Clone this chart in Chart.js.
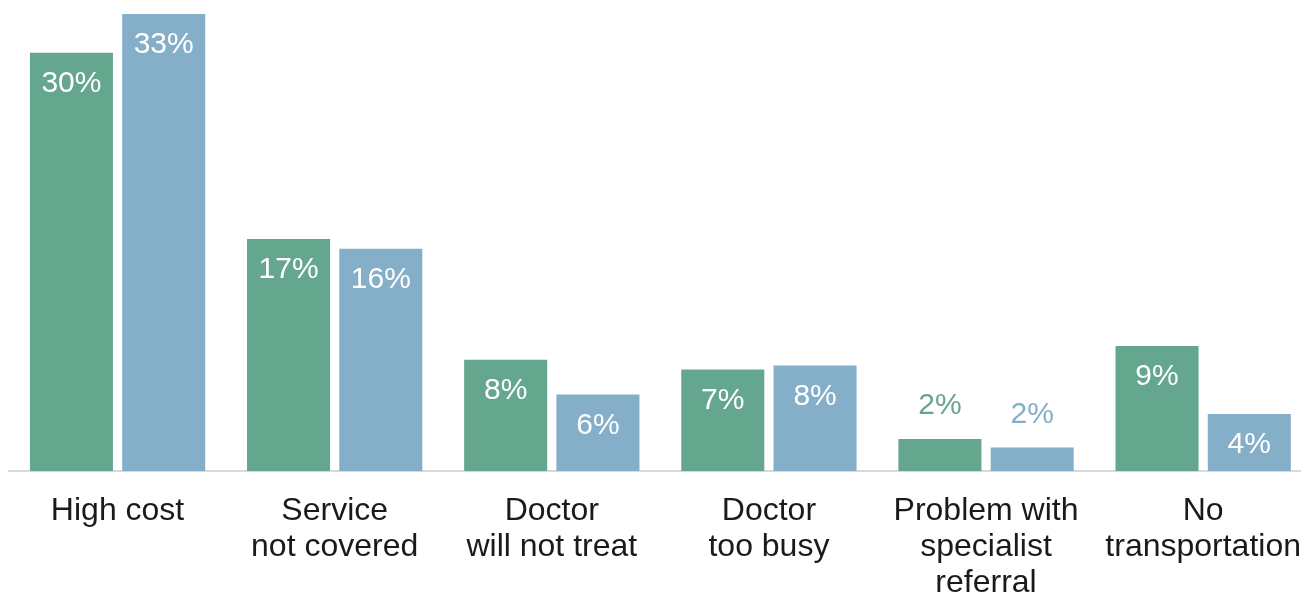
<!DOCTYPE html>
<html>
<head>
<meta charset="utf-8">
<script src="https://cdn.jsdelivr.net/npm/chart.js@4"></script>
<style>
  html, body { margin: 0; padding: 0; background: #fff; overflow: hidden; }
  #wrap { width: 1301px; height: 596px; overflow: hidden; }
  #inner { width: 1315px; height: 596px; position: relative; }
</style>
</head>
<body>
<div id="wrap"><div id="inner"><canvas id="chart"></canvas></div></div>
<script>
// Data
const categories = [
    'High cost',
    ['Service', 'not covered'],
    ['Doctor', 'will not treat'],
    ['Doctor', 'too busy'],
    ['Problem with', 'specialist', 'referral'],
    ['No', 'transportation']
];
const seriesA = [30.1, 16.7, 8, 7.3, 2.3, 9];
const seriesB = [32.9, 16, 5.5, 7.6, 1.7, 4.1];

const GREEN = '#65a68f';
const BLUE = '#85afc9';
const FONT = "'Liberation Sans', Arial, sans-serif";

// Draw value labels: inside the bar in white, or above it in the bar colour when the bar is short
const valueLabels = {
    id: 'valueLabels',
    afterDatasetsDraw(chart) {
        const ctx = chart.ctx;
        ctx.save();
        ctx.font = '30px ' + FONT;
        ctx.textAlign = 'center';
        ctx.textBaseline = 'middle';
        chart.data.datasets.forEach((ds, i) => {
            chart.getDatasetMeta(i).data.forEach((bar, j) => {
                const h = bar.base - bar.y;
                const txt = Math.round(ds.data[j]) + '%';
                if (h > 50) {
                    ctx.fillStyle = '#fff';
                    ctx.fillText(txt, bar.x, bar.y + 31);
                } else {
                    ctx.fillStyle = ds.backgroundColor;
                    ctx.fillText(txt, bar.x, bar.y - 33);
                }
            });
        });
        ctx.restore();
    }
};

new Chart(document.getElementById('chart'), {
    type: 'bar',
    data: {
        labels: categories,
        datasets: [
            { label: 'Group 1', data: seriesA, backgroundColor: GREEN },
            { label: 'Group 2', data: seriesB, backgroundColor: BLUE }
        ]
    },
    options: {
        responsive: true,
        maintainAspectRatio: false,
        animation: false,
        devicePixelRatio: 1,
        layout: { padding: { left: 9, right: 0, top: 0, bottom: 0 } },
        datasets: { bar: { categoryPercentage: 0.85, barPercentage: 0.9 } },
        plugins: {
            legend: { display: false },
            tooltip: { enabled: false }
        },
        scales: {
            x: {
                grid: { display: false },
                border: { display: true, color: '#d9d9d9', width: 2 },
                ticks: {
                    color: '#1a1a1a',
                    font: { family: FONT, size: 32, lineHeight: 1.13 },
                    padding: 14,
                    maxRotation: 0,
                    autoSkip: false
                },
                afterFit(scale) { scale.height = 125; }
            },
            y: {
                display: false,
                min: 0,
                max: 33.9
            }
        }
    },
    plugins: [valueLabels]
});
</script>
</body>
</html>
